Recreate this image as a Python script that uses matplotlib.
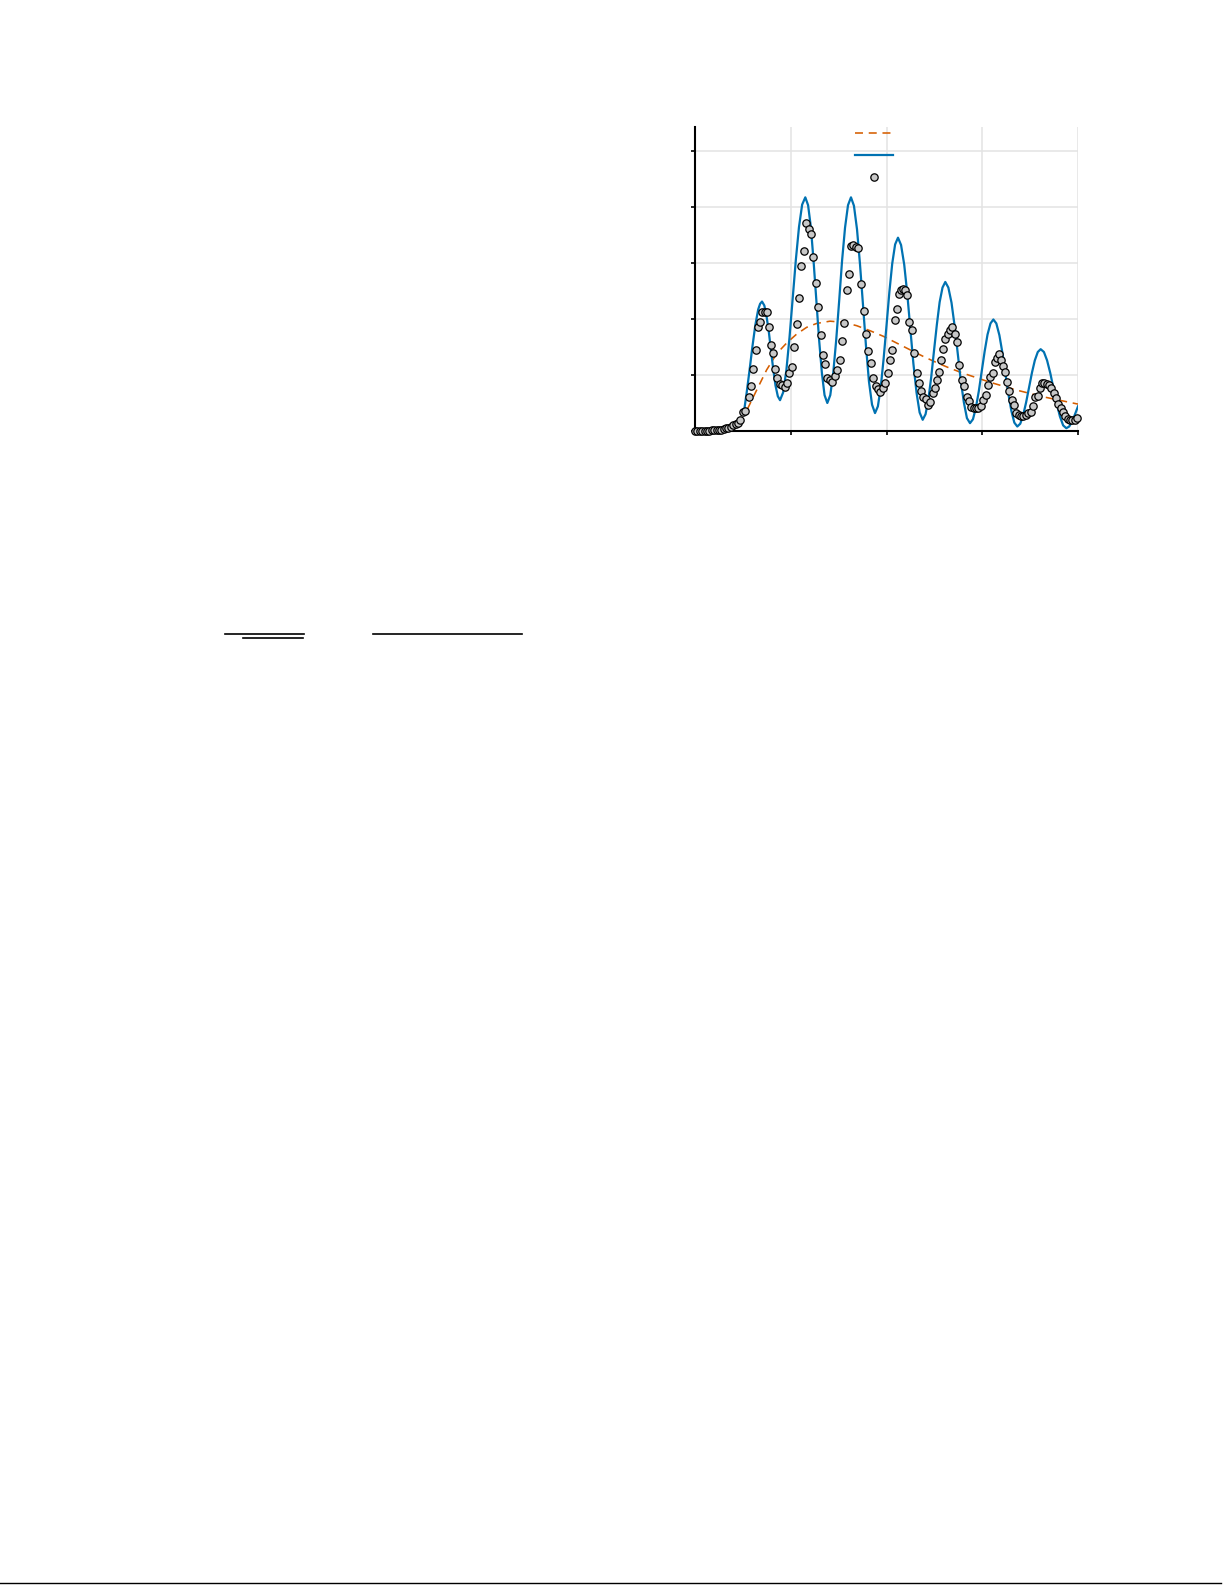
import matplotlib
matplotlib.use("Agg")
import matplotlib.pyplot as plt
from matplotlib.lines import Line2D

W, H = 1225, 1585

# measured points (gray circles)
meas_x = [0.000, 0.024, 0.049, 0.073, 0.101, 0.125, 0.150, 0.174, 0.198, 0.226,
          0.251, 0.275, 0.299, 0.324, 0.348, 0.376, 0.400, 0.425, 0.449, 0.473,
          0.498, 0.522, 0.560, 0.585, 0.609, 0.637, 0.661, 0.682, 0.703, 0.728,
          0.748, 0.769, 0.790, 0.815, 0.839, 0.860, 0.888, 0.912, 0.936, 0.961,
          0.985, 1.010, 1.034, 1.062, 1.086, 1.111, 1.135, 1.159, 1.187, 1.211,
          1.236, 1.260, 1.288, 1.312, 1.337, 1.361, 1.382, 1.406, 1.431, 1.459,
          1.483, 1.511, 1.535, 1.560, 1.584, 1.608, 1.629, 1.654, 1.678, 1.706,
          1.734, 1.762, 1.786, 1.810, 1.835, 1.862, 1.887, 1.911, 1.936, 1.960,
          1.984, 2.012, 2.037, 2.061, 2.089, 2.113, 2.134, 2.155, 2.176, 2.197,
          2.214, 2.238, 2.263, 2.287, 2.315, 2.339, 2.364, 2.385, 2.409, 2.433,
          2.458, 2.482, 2.507, 2.527, 2.545, 2.566, 2.590, 2.614, 2.639, 2.663,
          2.688, 2.712, 2.740, 2.761, 2.785, 2.813, 2.837, 2.862, 2.886, 2.910,
          2.935, 2.959, 2.983, 3.011, 3.036, 3.060, 3.084, 3.109, 3.133, 3.158,
          3.175, 3.192, 3.213, 3.234, 3.255, 3.279, 3.307, 3.332, 3.356, 3.380,
          3.405, 3.429, 3.453, 3.478, 3.506, 3.530, 3.554, 3.579, 3.603, 3.624,
          3.648, 3.673, 3.697, 3.722, 3.746, 3.770, 3.795, 3.819, 3.843, 3.868,
          3.892, 3.916, 3.941, 3.965, 3.990]
meas_y = [0.00, 0.00, 0.00, 0.00, 0.00, 0.00, 0.00, 0.01, 0.01, 0.01,
          0.02, 0.02, 0.04, 0.05, 0.06, 0.08, 0.10, 0.12, 0.15, 0.20,
          0.34, 0.36, 0.60, 0.80, 1.10, 1.44, 1.86, 1.94, 2.12, 2.13,
          2.12, 1.85, 1.54, 1.39, 1.11, 0.95, 0.83, 0.82, 0.79, 0.85,
          1.03, 1.14, 1.50, 1.91, 2.38, 2.94, 3.21, 3.72, 3.60, 3.52,
          3.11, 2.64, 2.21, 1.71, 1.35, 1.20, 0.94, 0.91, 0.87, 0.98,
          1.08, 1.27, 1.61, 1.92, 2.52, 2.80, 3.30, 3.32, 3.29, 3.26,
          2.62, 2.14, 1.73, 1.42, 1.22, 0.95, 0.80, 0.75, 0.70, 0.76,
          0.85, 1.04, 1.27, 1.45, 1.98, 2.17, 2.45, 2.52, 2.53, 2.52,
          2.42, 1.94, 1.80, 1.39, 1.04, 0.86, 0.71, 0.61, 0.58, 0.46,
          0.52, 0.67, 0.77, 0.91, 1.06, 1.27, 1.46, 1.64, 1.73, 1.80,
          1.85, 1.74, 1.58, 1.17, 0.91, 0.80, 0.61, 0.54, 0.43, 0.41,
          0.41, 0.41, 0.45, 0.55, 0.65, 0.82, 0.97, 1.04, 1.24, 1.30,
          1.38, 1.26, 1.16, 1.06, 0.88, 0.71, 0.55, 0.46, 0.32, 0.29,
          0.27, 0.26, 0.29, 0.32, 0.34, 0.45, 0.61, 0.63, 0.77, 0.86,
          0.85, 0.83, 0.82, 0.76, 0.67, 0.59, 0.49, 0.41, 0.34, 0.27,
          0.22, 0.20, 0.19, 0.19, 0.23]

# full model (blue solid)
model_x = [0.512, 0.540, 0.570, 0.600, 0.630, 0.660, 0.680, 0.700,
           0.724, 0.747, 0.771, 0.794, 0.818, 0.841, 0.865, 0.888,
           0.921, 0.954, 0.987, 1.020, 1.053, 1.086, 1.119, 1.152,
           1.181, 1.210, 1.238, 1.267, 1.296, 1.325, 1.353, 1.382,
           1.413, 1.444, 1.475, 1.506, 1.536, 1.567, 1.598, 1.629,
           1.660, 1.692, 1.723, 1.755, 1.786, 1.817, 1.849, 1.880,
           1.910, 1.940, 1.970, 2.000, 2.030, 2.060, 2.090, 2.120,
           2.152, 2.185, 2.217, 2.249, 2.281, 2.314, 2.346, 2.378,
           2.408, 2.437, 2.467, 2.496, 2.526, 2.555, 2.585, 2.614,
           2.646, 2.679, 2.711, 2.743, 2.775, 2.808, 2.840, 2.872,
           2.903, 2.933, 2.964, 2.994, 3.025, 3.055, 3.086, 3.116,
           3.147, 3.179, 3.210, 3.241, 3.272, 3.304, 3.335, 3.366,
           3.397, 3.427, 3.458, 3.488, 3.519, 3.549, 3.580, 3.610,
           3.644, 3.677, 3.711, 3.744, 3.778, 3.811, 3.845, 3.878,
           3.908, 3.939, 3.969, 4.000]
model_y = [0.35, 0.69, 1.09, 1.51, 1.89, 2.17, 2.27, 2.31,
           2.24, 2.05, 1.77, 1.43, 1.09, 0.81, 0.62, 0.55,
           0.69, 1.08, 1.67, 2.36, 3.05, 3.64, 4.04, 4.17,
           4.03, 3.64, 3.04, 2.34, 1.63, 1.04, 0.64, 0.50,
           0.64, 1.04, 1.63, 2.33, 3.04, 3.63, 4.03, 4.17,
           4.02, 3.60, 2.98, 2.24, 1.51, 0.88, 0.47, 0.32,
           0.44, 0.78, 1.29, 1.88, 2.48, 2.99, 3.33, 3.45,
           3.32, 2.97, 2.45, 1.82, 1.20, 0.68, 0.33, 0.20,
           0.30, 0.56, 0.96, 1.43, 1.90, 2.30, 2.56, 2.66,
           2.56, 2.29, 1.88, 1.40, 0.91, 0.51, 0.23, 0.14,
           0.21, 0.41, 0.71, 1.06, 1.42, 1.72, 1.92, 1.99,
           1.92, 1.71, 1.40, 1.03, 0.67, 0.36, 0.15, 0.08,
           0.13, 0.28, 0.51, 0.77, 1.04, 1.26, 1.41, 1.46,
           1.41, 1.26, 1.03, 0.76, 0.49, 0.26, 0.10, 0.05,
           0.08, 0.17, 0.30, 0.44]

# envelope (orange dashed)
env_x = [0.547, 0.644, 0.748, 0.853, 0.957, 1.062, 1.166, 1.271, 1.410, 1.549,
         1.688, 1.828, 1.967, 2.106, 2.245, 2.385, 2.524, 2.663, 2.802, 2.942,
         3.081, 3.220, 3.359, 3.499, 3.638, 3.777, 3.916, 4.000]
env_y = [0.39, 0.73, 1.09, 1.38, 1.57, 1.73, 1.85, 1.92, 1.96, 1.94,
         1.88, 1.79, 1.69, 1.57, 1.45, 1.33, 1.22, 1.12, 1.03, 0.95,
         0.87, 0.80, 0.73, 0.67, 0.61, 0.56, 0.51, 0.48]

x_ticks = [0, 1, 2, 3, 4]
y_ticks = [0, 1, 2, 3, 4, 5]

fig = plt.figure(figsize=(W / 100, H / 100), dpi=100)
fig.patch.set_facecolor("white")

# axes box measured in page pixels
ax = fig.add_axes([695 / W, 1 - 431 / H, 383 / W, 303.7 / H])
ax.set_xlim(0, 4)
ax.set_ylim(0, 5.42)

h_env, = ax.plot(env_x, env_y, color="#D55E00", lw=1.15, ls=(0, (5, 3.6)), zorder=2)
h_mod, = ax.plot(model_x, model_y, color="#0072B2", lw=1.6, zorder=3,
                 solid_joinstyle="round")
h_pts, = ax.plot(meas_x, meas_y, ls="none", marker="o", ms=5.3, mfc="#c8c8c8",
                 mec="black", mew=0.9, zorder=4, clip_on=False)

ax.set_xticks(x_ticks)
ax.set_yticks(y_ticks)
ax.tick_params(direction="out", length=3.2, width=1.2, labelleft=False, labelbottom=False)
ax.grid(True, color="#e3e3e3", lw=1.1, zorder=0)
ax.set_axisbelow(True)
for s in ("top", "right"):
    ax.spines[s].set_visible(False)
for s in ("left", "bottom"):
    ax.spines[s].set_linewidth(1.5)

ax.legend([h_env, h_mod, h_pts], ["", "", ""], loc="upper left",
          bbox_to_anchor=((855 - 695) / 383, 1.0), frameon=False, fontsize=10,
          borderpad=0, borderaxespad=0, handletextpad=0, handlelength=2.74,
          labelspacing=0.55)

# page rules (fraction bars of the text equation, footer rule)
for x0, x1, y, lw in [(225, 304, 633.7, 1.2), (243, 303, 637.7, 1.2),
                      (373, 522, 633.7, 1.2), (0, 1221, 1583.3, 1.0)]:
    fig.add_artist(Line2D([x0 / W, x1 / W], [1 - y / H, 1 - y / H],
                          transform=fig.transFigure, color="black", lw=lw))

fig.savefig("out.png", dpi=100)
